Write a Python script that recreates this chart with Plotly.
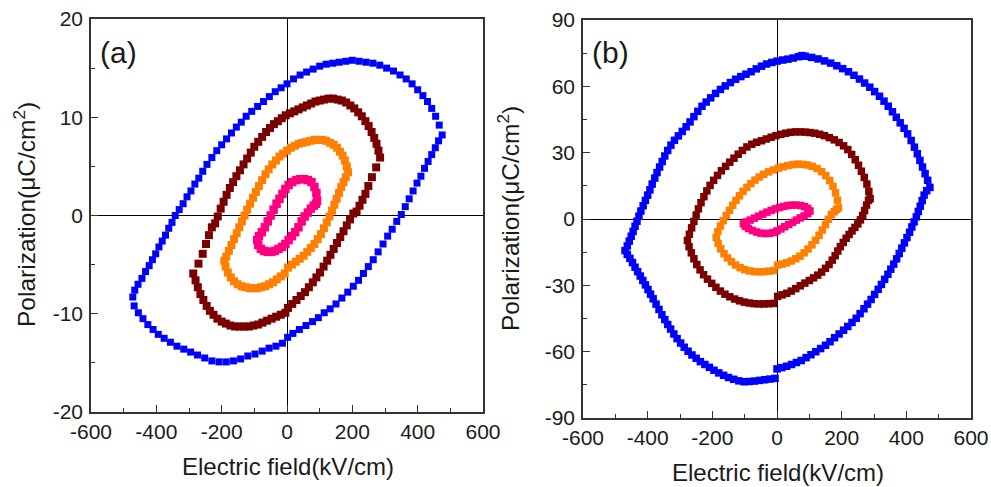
import plotly.graph_objects as go

# ---------------- data: panel (a) ----------------
a_blue = [(475, 8.2), (466, 9.2), (455, 10.1), (443, 10.9), (430, 11.6), (416, 12.2), (400, 12.8), (383, 13.4),
          (365, 13.9), (346, 14.3), (326, 14.7), (305, 15.0), (284, 15.3), (263, 15.5), (242, 15.6), (221, 15.7),
          (200, 15.8), (180, 15.7), (160, 15.6), (140, 15.5), (120, 15.4), (100, 15.2), (80, 14.9), (60, 14.6),
          (40, 14.3), (20, 13.9), (0, 13.4), (-18, 13.0), (-36, 12.6), (-54, 12.1), (-72, 11.6), (-90, 11.1),
          (-108, 10.6), (-125, 10.1), (-140, 9.5), (-155, 9.0), (-170, 8.4), (-185, 7.8), (-200, 7.2), (-215, 6.6),
          (-230, 5.9), (-245, 5.2), (-258, 4.5), (-270, 3.8), (-282, 3.2), (-294, 2.5), (-306, 1.9), (-318, 1.2),
          (-330, 0.6), (-342, 0.0), (-352, -0.7), (-362, -1.3), (-372, -2.0), (-382, -2.6), (-392, -3.2),
          (-402, -3.9), (-412, -4.5), (-422, -5.1), (-433, -5.7), (-444, -6.4), (-456, -7.0), (-466, -7.6),
          (-472, -8.3),
          (-468, -9.2), (-455, -9.9), (-441, -10.5), (-426, -11.1), (-410, -11.6), (-394, -12.1), (-376, -12.5),
          (-357, -12.9), (-337, -13.3), (-316, -13.6), (-295, -13.9), (-274, -14.2), (-252, -14.5), (-230, -14.8),
          (-208, -14.9), (-186, -14.9), (-164, -14.8), (-142, -14.6), (-120, -14.3), (-98, -14.1), (-76, -13.8),
          (-55, -13.5), (-34, -13.3), (-14, -13.0), (2, -12.4), (18, -12.0), (38, -11.6), (58, -11.2), (78, -10.8),
          (96, -10.4), (114, -9.9), (132, -9.5), (150, -9.0), (168, -8.4), (186, -7.8), (203, -7.2), (219, -6.6),
          (234, -5.9), (249, -5.2), (264, -4.5), (279, -3.7), (294, -2.9), (308, -2.1), (322, -1.4), (336, -0.6),
          (350, 0.1), (362, 0.9), (374, 1.7), (386, 2.5), (398, 3.3), (410, 4.0), (421, 4.8), (432, 5.5),
          (443, 6.2), (454, 6.9), (464, 7.6)]

a_maroon = [(285, 5.9), (280, 6.6), (274, 7.3), (267, 7.9), (259, 8.5), (250, 9.1), (240, 9.6), (229, 10.1),
            (218, 10.5), (206, 10.9), (194, 11.2), (181, 11.5), (168, 11.7), (155, 11.8), (141, 11.9), (127, 11.9),
            (113, 11.8), (100, 11.7), (87, 11.6), (74, 11.4), (61, 11.2), (48, 11.0), (35, 10.8), (22, 10.6),
            (9, 10.4), (-4, 10.2), (-16, 9.9), (-28, 9.6), (-40, 9.3), (-52, 8.9), (-64, 8.5), (-76, 8.0),
            (-88, 7.5), (-100, 7.0), (-111, 6.4), (-122, 5.8), (-133, 5.2), (-144, 4.6), (-155, 4.0), (-165, 3.4),
            (-175, 2.8), (-185, 2.1), (-194, 1.4), (-203, 0.7), (-212, -0.1), (-220, -0.8), (-230, -1.2),
            (-239, -2.0), (-248, -2.9), (-258, -3.9), (-271, -4.9), (-287, -5.9),
            (-280, -6.6), (-273, -7.3), (-265, -8.0), (-256, -8.6), (-246, -9.2), (-236, -9.7), (-225, -10.1),
            (-213, -10.5), (-200, -10.8), (-187, -11.0), (-173, -11.2), (-159, -11.3), (-145, -11.3),
            (-131, -11.3), (-117, -11.3), (-103, -11.2), (-89, -11.1), (-75, -10.9), (-61, -10.7), (-47, -10.5),
            (-33, -10.3), (-19, -10.1), (-5, -9.9), (3, -9.4), (16, -9.0), (29, -8.6), (42, -8.2), (55, -7.8),
            (67, -7.3), (79, -6.8), (90, -6.3), (101, -5.8), (112, -5.2), (123, -4.6), (133, -4.0), (143, -3.4),
            (153, -2.8), (163, -2.2), (173, -1.6), (183, -1.0), (193, -0.4), (203, 0.2), (213, 0.4), (222, 1.0),
            (231, 1.6), (240, 2.2), (249, 3.0), (260, 3.9), (273, 4.9)]

a_orange = [(187, 4.4), (183, 5.0), (177, 5.6), (170, 6.1), (162, 6.5), (153, 6.9), (143, 7.2), (132, 7.4),
            (120, 7.6), (108, 7.7), (96, 7.7), (84, 7.7), (72, 7.6), (60, 7.5), (48, 7.4), (36, 7.3), (24, 7.1),
            (12, 6.9), (0, 6.6), (-12, 6.3), (-23, 6.0), (-34, 5.6), (-45, 5.2), (-56, 4.7), (-66, 4.2),
            (-76, 3.6), (-86, 3.0), (-95, 2.4), (-104, 1.8), (-113, 1.2), (-122, 0.6), (-130, 0.0), (-138, -0.6),
            (-146, -1.2), (-154, -1.8), (-162, -2.4), (-170, -3.0), (-178, -3.6), (-186, -4.2), (-192, -4.6),
            (-188, -5.2), (-181, -5.8), (-172, -6.3), (-162, -6.7), (-151, -7.0), (-139, -7.2), (-127, -7.3),
            (-115, -7.4), (-103, -7.4), (-91, -7.4), (-79, -7.3), (-67, -7.2), (-55, -7.0), (-43, -6.8),
            (-31, -6.5), (-19, -6.2), (-7, -5.9), (3, -5.3), (15, -5.0), (27, -4.7), (39, -4.4), (51, -4.1),
            (62, -3.7), (73, -3.3), (84, -2.9), (94, -2.4), (104, -1.9), (113, -1.3), (122, -0.7), (130, -0.1),
            (138, 0.5), (145, 1.1), (152, 1.7), (159, 2.3), (166, 2.9), (173, 3.4), (180, 3.9)]

a_pink = [(92, 1.5), (90, 2.3), (84, 2.9), (75, 3.4), (64, 3.6), (52, 3.7), (40, 3.7), (28, 3.6), (16, 3.4),
          (5, 3.1), (-5, 2.7), (-14, 2.2), (-23, 1.7), (-32, 1.2), (-41, 0.6), (-50, 0.0), (-59, -0.6),
          (-68, -1.2), (-77, -1.7), (-86, -2.1), (-91, -2.5), (-88, -3.0), (-80, -3.4), (-70, -3.6), (-59, -3.7),
          (-48, -3.7), (-37, -3.6), (-26, -3.4), (-15, -3.2), (-5, -2.9), (5, -2.5), (15, -2.1), (25, -1.7),
          (35, -1.2), (45, -0.6), (54, -0.1), (64, 0.3), (73, 0.7), (82, 1.0), (89, 1.2)]

# ---------------- data: panel (b) ----------------
b_blue = [(473, 14.3), (466, 17.5), (458, 20.5), (450, 23.5), (442, 26.5), (434, 29.5), (425, 32.5), (415, 35.5),
          (404, 38.5), (393, 41.0), (381, 43.5), (369, 46.0), (357, 48.5), (344, 51.0), (331, 53.3), (317, 55.5),
          (302, 57.6), (287, 59.6), (271, 61.5), (255, 63.3), (238, 65.0), (221, 66.6), (203, 68.0), (185, 69.3),
          (166, 70.5), (147, 71.5), (127, 72.4), (107, 73.1), (87, 73.6), (77, 73.9), (66, 73.4), (50, 72.8),
          (34, 72.3), (18, 71.9), (0, 71.4), (-16, 70.8), (-32, 70.1), (-48, 69.1), (-64, 67.9), (-80, 66.6),
          (-96, 65.5), (-112, 64.4), (-128, 63.2), (-144, 61.7), (-160, 60.2), (-175, 58.6), (-190, 56.8),
          (-205, 54.8), (-219, 52.9), (-232, 51.0), (-245, 48.7), (-257, 46.3), (-269, 43.9), (-281, 41.7),
          (-293, 39.6), (-305, 37.6), (-317, 35.6), (-328, 33.4), (-338, 31.0), (-347, 28.5), (-355, 26.0),
          (-363, 23.5), (-371, 21.0), (-378, 18.5), (-386, 15.8), (-393, 13.2), (-400, 10.8), (-407, 8.4),
          (-414, 6.0), (-421, 3.6), (-427, 1.3), (-433, -1.0), (-439, -3.3), (-445, -5.6), (-451, -7.8),
          (-457, -10.0), (-463, -12.2), (-470, -14.3),
          (-463, -16.0), (-455, -17.8), (-447, -19.7), (-439, -21.8), (-431, -23.8), (-423, -25.8), (-415, -27.8),
          (-407, -29.8), (-399, -31.9), (-391, -34.0), (-383, -36.1), (-374, -38.5), (-365, -40.9), (-356, -43.3),
          (-347, -45.5), (-338, -47.7), (-329, -49.8), (-319, -52.0), (-309, -54.1), (-298, -56.1), (-287, -58.0),
          (-275, -59.8), (-263, -61.5), (-250, -63.0), (-237, -64.5), (-223, -65.8), (-209, -67.1), (-195, -68.4),
          (-180, -69.6), (-165, -70.7), (-150, -71.7), (-134, -72.5), (-118, -73.2), (-102, -73.6), (-86, -73.5),
          (-70, -73.3), (-54, -73.0), (-38, -72.7), (-22, -72.4), (-6, -72.1),
          (0, -67.8), (15, -67.2), (30, -66.6), (45, -65.8), (60, -64.9), (75, -64.0), (90, -62.7), (105, -61.4),
          (120, -60.0), (135, -58.6), (150, -57.1), (164, -55.5), (178, -53.7), (192, -52.0), (206, -50.3),
          (219, -48.6), (232, -46.8), (245, -44.9), (257, -42.8), (269, -40.6), (280, -38.5), (291, -36.4),
          (302, -34.1), (313, -31.8), (323, -29.6), (333, -27.3), (343, -25.0), (352, -22.7), (361, -20.4),
          (370, -18.0), (378, -15.6), (386, -13.2), (394, -10.8), (402, -8.4), (410, -6.0), (417, -3.6),
          (424, -1.3), (431, 1.0), (437, 3.4), (443, 5.8), (449, 8.3), (455, 10.8), (463, 12.8)]

b_maroon = [(288, 9.2), (284, 12.5), (278, 15.8), (270, 18.8), (261, 21.6), (252, 24.3), (242, 26.8), (231, 29.2),
            (219, 31.4), (206, 33.1), (192, 34.6), (177, 35.8), (162, 36.8), (147, 37.7), (132, 38.3), (117, 38.8),
            (102, 39.1), (87, 39.3), (72, 39.4), (57, 39.4), (42, 39.2), (27, 38.8), (12, 38.3), (-3, 37.7),
            (-18, 37.0), (-33, 36.2), (-48, 35.4), (-63, 34.7), (-78, 33.8), (-93, 32.6), (-107, 31.0),
            (-120, 29.3), (-133, 27.5), (-146, 25.7), (-159, 23.8), (-172, 21.8), (-184, 19.7), (-196, 17.5),
            (-207, 15.2), (-217, 12.7), (-226, 10.1), (-235, 7.4), (-243, 4.6), (-250, 1.8), (-257, -1.1),
            (-264, -4.0), (-271, -6.9), (-277, -9.7),
            (-272, -12.5), (-265, -15.3), (-257, -18.0), (-248, -20.6), (-238, -23.0), (-227, -25.2), (-215, -27.2),
            (-202, -29.1), (-189, -30.9), (-175, -32.6), (-161, -34.0), (-146, -35.2), (-131, -36.2), (-116, -37.0),
            (-101, -37.6), (-86, -38.0), (-71, -38.3), (-56, -38.4), (-41, -38.4), (-26, -38.3), (-11, -38.2),
            (2, -35.0), (16, -34.3), (30, -33.6), (44, -32.6), (58, -31.5), (72, -30.2), (86, -29.0), (100, -27.8),
            (113, -26.6), (126, -25.4), (138, -24.0), (150, -22.3), (161, -20.6), (171, -18.6), (180, -16.6),
            (188, -14.5), (196, -12.5), (205, -10.6), (214, -8.7), (223, -7.0), (232, -5.4), (241, -3.8),
            (250, -2.2), (258, -0.4), (265, 1.6), (271, 3.8), (277, 6.3), (283, 8.5)]

b_orange = [(190, 5.0), (187, 8.5), (181, 11.8), (173, 14.8), (163, 17.4), (151, 19.6), (138, 21.4), (124, 22.8),
            (109, 23.8), (94, 24.4), (79, 24.7), (64, 24.8), (49, 24.6), (34, 24.2), (19, 23.6), (4, 23.0),
            (-11, 22.2), (-26, 21.3), (-41, 20.2), (-55, 19.0), (-68, 17.6), (-81, 16.0), (-93, 14.3), (-105, 12.5),
            (-116, 10.5), (-127, 8.4), (-137, 6.2), (-147, 3.9), (-157, 1.6), (-166, -0.8), (-175, -3.2),
            (-183, -5.7), (-188, -8.3),
            (-182, -11.0), (-174, -13.5), (-164, -15.7), (-153, -17.6), (-141, -19.3), (-128, -20.8), (-114, -22.0),
            (-100, -22.9), (-85, -23.5), (-70, -23.8), (-55, -23.9), (-40, -23.8), (-25, -23.6), (-10, -23.3),
            (2, -20.8), (16, -20.4), (30, -19.8), (44, -19.0), (58, -18.0), (71, -16.8), (84, -15.3), (96, -13.6),
            (108, -11.7), (119, -9.6), (130, -7.4), (140, -5.0), (150, -2.6), (159, -0.1), (168, 2.0), (177, 3.3),
            (184, 4.3)]

b_pink = [(102, 3.6), (95, 4.8), (85, 5.6), (73, 6.1), (60, 6.3), (47, 6.3), (34, 6.1), (21, 5.7), (8, 5.2),
          (-5, 4.6), (-18, 3.9), (-31, 3.1), (-44, 2.2), (-57, 1.3), (-70, 0.4), (-83, -0.5), (-95, -1.3),
          (-104, -2.2), (-98, -3.3), (-88, -4.3), (-76, -5.2), (-63, -5.9), (-50, -6.4), (-37, -6.6), (-24, -6.5),
          (-12, -6.1), (0, -5.4), (12, -4.5), (24, -3.5), (36, -2.5), (48, -1.5), (60, -0.5), (72, 0.5),
          (84, 1.4), (95, 2.4)]

colors = {"blue": "#0000ff", "maroon": "#7a0000", "orange": "#ff8000", "pink": "#ff0080"}

x_ticks = [-600, -400, -200, 0, 200, 400, 600]
ya_ticks = [-20, -10, 0, 10, 20]
yb_ticks = [-90, -60, -30, 0, 30, 60, 90]

x_title = "Electric field(kV/cm)"
y_title = "Polarization(\u03bcC/cm<sup>2</sup>)"

FONT = "Arial, 'Liberation Sans', sans-serif"
W, H = 991, 487

fig = go.Figure()


def add_loop(pts, color, xa, ya, size):
    xs = [p[0] for p in pts]
    ys = [p[1] for p in pts]
    fig.add_trace(go.Scatter(x=xs, y=ys, mode="markers", xaxis=xa, yaxis=ya,
                             marker=dict(symbol="square", size=size, color=color, line=dict(width=0)),
                             showlegend=False, hoverinfo="x+y"))


add_loop(a_blue, colors["blue"], "x", "y", 7)
add_loop(a_maroon, colors["maroon"], "x", "y", 8)
add_loop(a_orange, colors["orange"], "x", "y", 8)
add_loop(a_pink, colors["pink"], "x", "y", 8.5)
add_loop(b_blue, colors["blue"], "x2", "y2", 7.5)
add_loop(b_maroon, colors["maroon"], "x2", "y2", 7.5)
add_loop(b_orange, colors["orange"], "x2", "y2", 7.5)
add_loop(b_pink, colors["pink"], "x2", "y2", 7.5)


def axis_common(vals):
    return dict(
        showgrid=False, zeroline=True, zerolinecolor="#000000", zerolinewidth=1,
        showline=True, mirror=True, linecolor="#333333", linewidth=1.5,
        ticks="inside", ticklen=7, tickwidth=1.2, tickcolor="#333333",
        tickmode="array", tickvals=vals, ticktext=[str(v) for v in vals],
        tickfont=dict(family=FONT, size=21, color="#1a1a1a"),
        automargin=False, fixedrange=True,
    )


def minor(dt):
    return dict(ticks="inside", ticklen=4, tickwidth=1.2, tickcolor="#333333", dtick=dt, showgrid=False)


xa = axis_common(x_ticks)
xa.update(domain=[91 / W, 483 / W], range=[-600, 600], anchor="y", minor=minor(100), ticklabelstandoff=0)
ya = axis_common(ya_ticks)
ya.update(domain=[1 - 412 / H, 1 - 19 / H], range=[-20, 20], anchor="x", minor=minor(5), ticklabelstandoff=2)
xb = axis_common(x_ticks)
xb.update(domain=[583 / W, 971 / W], range=[-600, 600], anchor="y2", minor=minor(100), ticklabelstandoff=0)
yb = axis_common(yb_ticks)
yb.update(domain=[1 - 418 / H, 1 - 20 / H], range=[-90, 90], anchor="x2", minor=minor(15), ticklabelstandoff=2)


def ann(text, px, py, size, angle=0):
    return dict(text=text, x=px / W, y=1 - py / H, xref="paper", yref="paper", showarrow=False,
                xanchor="center", yanchor="middle", textangle=angle,
                font=dict(family=FONT, size=size, color="#1a1a1a"))


fig.update_layout(
    width=W, height=H, margin=dict(l=0, r=0, t=0, b=0, autoexpand=False),
    paper_bgcolor="white", plot_bgcolor="white",
    xaxis=xa, yaxis=ya, xaxis2=xb, yaxis2=yb,
    annotations=[
        ann("(a)", 118, 52, 30),
        ann("(b)", 610, 52, 30),
        ann(x_title, 288, 466, 24),
        ann(x_title, 778, 472, 24),
        ann(y_title, 25, 215, 24.5, -90),
        ann(y_title, 508, 219, 24.5, -90),
    ],
)

fig.write_html("out.html")
